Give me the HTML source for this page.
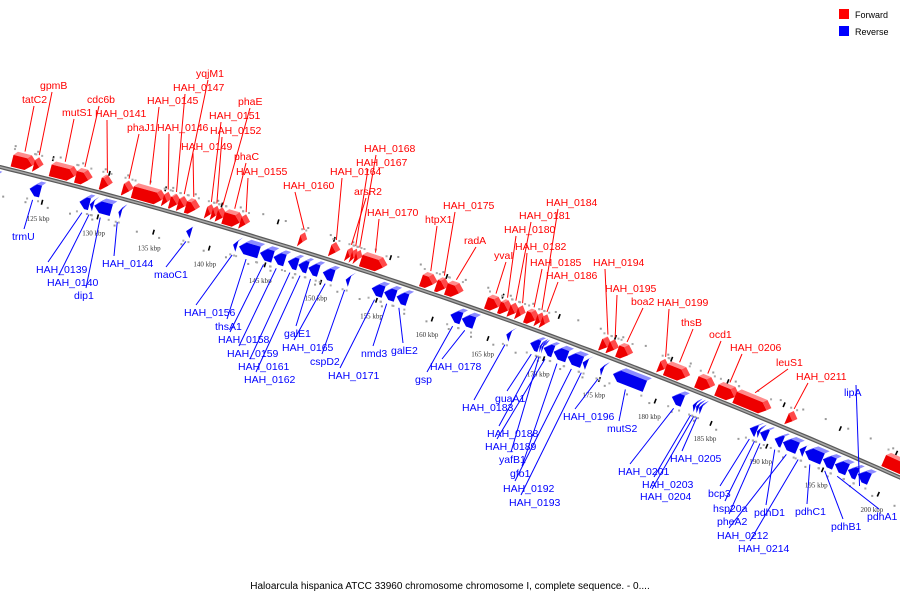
<!DOCTYPE html>
<html><head><meta charset="utf-8"><style>
html,body{margin:0;padding:0;background:#fff;}
svg{display:block;font-family:"Liberation Sans",sans-serif;}
</style></head><body>
<svg id="map" width="900" height="600" viewBox="0 0 900 600" xmlns="http://www.w3.org/2000/svg">
<g>
<rect x="839" y="9" width="10" height="10" fill="#f00"/>
<text x="855" y="18" font-size="9" fill="#000">Forward</text>
<rect x="839" y="26" width="10" height="10" fill="#00f"/>
<text x="855" y="35" font-size="9" fill="#000">Reverse</text>
</g>
<text x="450" y="589" font-size="10" text-anchor="middle" fill="#000">Haloarcula hispanica ATCC 33960 chromosome chromosome I, complete sequence. - 0....</text>
</svg>
<script>
const geneStart = [121.6,123.5,125.0,127.25,129.46,131.43,132.32,135.0,135.63,136.35,137.05,138.84,139.35,139.8,140.4,141.9,147.14,149.91,151.34,151.75,152.1,152.68,158.04,159.38,160.27,163.84,165.0,165.85,166.52,167.32,168.25,168.7,174.02,174.68,175.54,179.2,179.8,182.59,184.38,186.0,190.63,199.29,
119.8,123.66,128.13,129.05,129.46,131.61,137.68,141.88,142.41,144.29,145.5,146.79,147.72,148.62,149.91,151.96,154.29,155.4,156.52,161.34,162.36,166.34,168.48,169.32,169.5,169.68,170.58,171.83,173.17,174.73,175.89,181.16,183.04,183.33,183.6,188.13,188.78,189.05,190.36,191.1,192.59,193.08,194.68,195.75,196.92,197.8];
const geneEnd = [123.39,124.02,127.14,128.39,130.18,132.05,134.91,135.45,136.3,136.96,137.95,139.29,139.75,140.36,141.88,142.41,147.5,150.45,151.7,152.05,152.41,154.64,159.11,160.18,161.43,164.91,165.8,166.43,166.96,168.21,168.66,169.11,174.64,175.27,176.52,179.73,181.61,183.84,185.98,188.84,191.16,201.96,
120.71,124.64,129.02,129.38,130.98,131.88,138.13,142.23,144.2,145.45,146.52,147.68,148.57,149.55,150.89,152.32,155.36,156.43,157.5,162.32,163.48,166.7,169.29,169.48,169.64,170.54,171.79,173.13,173.57,175.0,178.75,182.14,183.3,183.57,183.84,188.75,189.02,189.73,191.07,192.41,193.04,194.64,195.71,196.88,197.77,198.84];
const geneStrand = [1,1,1,1,1,1,1,1,1,1,1,1,1,1,1,1,1,1,1,1,1,1,1,1,1,1,1,1,1,1,1,1,1,1,1,1,1,1,1,1,1,1,
-1,-1,-1,-1,-1,-1,-1,-1,-1,-1,-1,-1,-1,-1,-1,-1,-1,-1,-1,-1,-1,-1,-1,-1,-1,-1,-1,-1,-1,-1,-1,-1,-1,-1,-1,-1,-1,-1,-1,-1,-1,-1,-1,-1,-1,-1];
const geneName = ["tatC2","gpmB","mutS1","cdc6b","HAH_0141","phaJ1","HAH_0145","HAH_0146","HAH_0147","yqjM1","HAH_0149","HAH_0151","HAH_0152","phaE","phaC","HAH_0155","HAH_0160","HAH_0164","arsR2","HAH_0167","HAH_0168","HAH_0170","htpX1","HAH_0175","radA","yvaI","HAH_0180","HAH_0181","HAH_0182","HAH_0185","HAH_0184","HAH_0186","HAH_0194","HAH_0195","boa2","HAH_0199","thsB","ocd1","HAH_0206","leuS1","HAH_0211","",
"","trmU","HAH_0139","HAH_0140","dip1","HAH_0144","maoC1","HAH_0156","thsA1","HAH_0158","HAH_0159","HAH_0161","HAH_0162","galE1","HAH_0165","cspD2","HAH_0171","nmd3","galE2","gsp","HAH_0178","HAH_0183","guaA1","HAH_0188","yafB1","HAH_0189","gfo1","HAH_0192","HAH_0193","HAH_0196","mutS2","HAH_0201","HAH_0203","HAH_0204","HAH_0205","bcp3","hsp20a","pheA2","pdhD1","HAH_0212","HAH_0214","pdhC1","pdhB1","pdhA1","HAH_lip","lipA"];
const tickKbp = [120,125,130,135,140,145,150,155,160,165,170,175,180,185,190,195,200];
const tickLabel = ["120 kbp","125 kbp","130 kbp","135 kbp","140 kbp","145 kbp","150 kbp","155 kbp","160 kbp","165 kbp","170 kbp","175 kbp","180 kbp","185 kbp","190 kbp","195 kbp","200 kbp"];

const labelX = [22,40,62,87,95,127,147,157,173,196,181,209,210,238,234,236,283,330,354,356,364,367,425,443,464,494,504,519,515,530,546,546,593,605,631,657,681,709,730,776,796,null,
null,12,36,47,74,102,154,184,215,218,227,238,244,284,282,310,328,361,391,415,430,462,495,487,499,485,510,503,509,563,607,618,642,640,670,708,713,717,754,717,738,795,831,867,null,844];
const labelY = [103,89,116,103,117,131,104,131,91,77,150,119,134,105,160,175,189,175,195,166,152,216,223,209,244,259,233,219,250,266,206,279,266,292,305,306,326,338,351,366,380,null,
null,240,273,286,299,267,278,316,330,343,357,370,383,337,351,365,379,357,354,383,370,411,402,437,463,450,477,492,506,420,432,475,488,500,462,497,512,525,516,539,552,515,530,520,null,396];

const NS = "http://www.w3.org/2000/svg";
const svg = document.getElementById("map");
const xOf = k => 48 + (k - 125) * 11.2;
const lineY = x => 167 + 0.2452 * x + 0.000111 * x * x;
const slope = x => 0.2452 + 0.000222 * x;
function pt(k, d) {
  const x = xOf(k), s = slope(x), n = Math.sqrt(1 + s * s);
  return [x - d * s / n, lineY(x) + d / n];
}
function ptX(x, d) {
  const s = slope(x), n = Math.sqrt(1 + s * s);
  return [x - d * s / n, lineY(x) + d / n];
}
const P = a => a.map(p => p[0].toFixed(1) + "," + p[1].toFixed(1)).join(" ");
function mk(tag, attrs, parent) {
  const e = document.createElementNS(NS, tag);
  for (const k in attrs) e.setAttribute(k, attrs[k]);
  (parent || svg).appendChild(e);
  return e;
}

const dots = mk("g", {});


for (let k = 119; k <= 203; k += 2) {
  for (const d of [-24, 28]) {
    const p = pt(k + 0.6, d);
    const r = mk("rect", {x: p[0] - 1, y: p[1] - 1, width: 2, height: 2, fill: "#999"}, dots);
    
    
  }
}

const bpts = [];
for (let x = -10; x <= 910; x += 10) bpts.push(ptX(x, 0));
const bb1 = mk("polyline", {points: P(bpts), fill: "none", stroke: "#5a5a5a", "stroke-width": 4});


const bb2 = mk("polyline", {points: P(bpts), fill: "none", stroke: "#a8a8a8", "stroke-width": 1.5});



const tg = mk("g", {});


tickKbp.forEach((k, i) => {
  for (const d of [-21, 24]) {
    const a = pt(k, d - 2.5), b = pt(k, d + 2.5);
    const t = mk("line", {x1: a[0], y1: a[1], x2: b[0], y2: b[1], stroke: "#000", "stroke-width": 1.6}, tg);
    
    
  }
  const lp = pt(k, 40);
  const tx = mk("text", {x: lp[0], y: lp[1] + 3, "font-size": 7, "text-anchor": "middle", fill: "#333", "font-family": "Liberation Serif, serif"}, tg);
  tx.textContent = tickLabel[i];
  
  
});

const gg = mk("g", {});


const lg = mk("g", {});


geneStart.forEach((k0, i) => {
  const k1 = geneEnd[i], fw = geneStrand[i] > 0;
  const t = fw ? -15 : 8, b = fw ? -3 : 20, m = (t + b) / 2;
  const len = k1 - k0, hd = Math.min(0.55, len);
  const g = mk("g", {}, gg);
  
  
  const dk = 0.3, up = 4;
  let front, top, side;
  if (fw) {
    const hb = k1 - hd;
    front = [pt(k0, b), pt(hb, b), pt(k1, m), pt(hb, t), pt(k0, t)];
    top = [pt(k0, t), pt(hb, t), pt(hb + dk, t - up), pt(k0 + dk, t - up)];
    side = [pt(hb, t), pt(k1, m), pt(k1 + dk, m - up), pt(hb + dk, t - up)];
  } else {
    const hb = k0 + hd;
    front = [pt(k1, b), pt(hb, b), pt(k0, m), pt(hb, t), pt(k1, t)];
    top = [pt(k1, t), pt(hb, t), pt(hb + dk, t - up), pt(k1 + dk, t - up)];
    side = [pt(hb, t), pt(k0, m), pt(k0 + dk, m - up), pt(hb + dk, t - up)];
  }
  const c1 = fw ? "#ee0000" : "#0000ee", c2 = fw ? "#ff8c8c" : "#8c8cff", c3 = fw ? "#ff4a4a" : "#4a4aff";
  const f1 = mk("polygon", {points: P(top), fill: c2}, g);
  
  
  const f2 = mk("polygon", {points: P(side), fill: c3}, g);
  
  
  const f3 = mk("polygon", {points: P(front), fill: c1}, g);
  
  
  for (const kk of [k0, k1]) {
    const p = pt(kk, fw ? -21 : 24);
    const r = mk("rect", {x: p[0] - 1, y: p[1] - 1, width: 2, height: 2, fill: "#aaa"}, g);
    
    
  }
  if (geneName[i] && labelX[i] != null) {
    const col = fw ? "#ff0000" : "#0000ff";
    const mid = (k0 + k1) / 2;
    const e = pt(mid, fw ? -21 : 24);
    const sx = labelX[i] + 12, sy = fw ? labelY[i] + 3 : labelY[i] - 11;
    const ln = mk("line", {x1: sx, y1: sy, x2: e[0], y2: e[1], stroke: col, "stroke-width": 1}, lg);
    
    
    const tx = mk("text", {x: labelX[i], y: labelY[i], "font-size": 10.5, fill: col}, lg);
    tx.textContent = geneName[i];
    
    
  }
});
</script>
</body></html>
